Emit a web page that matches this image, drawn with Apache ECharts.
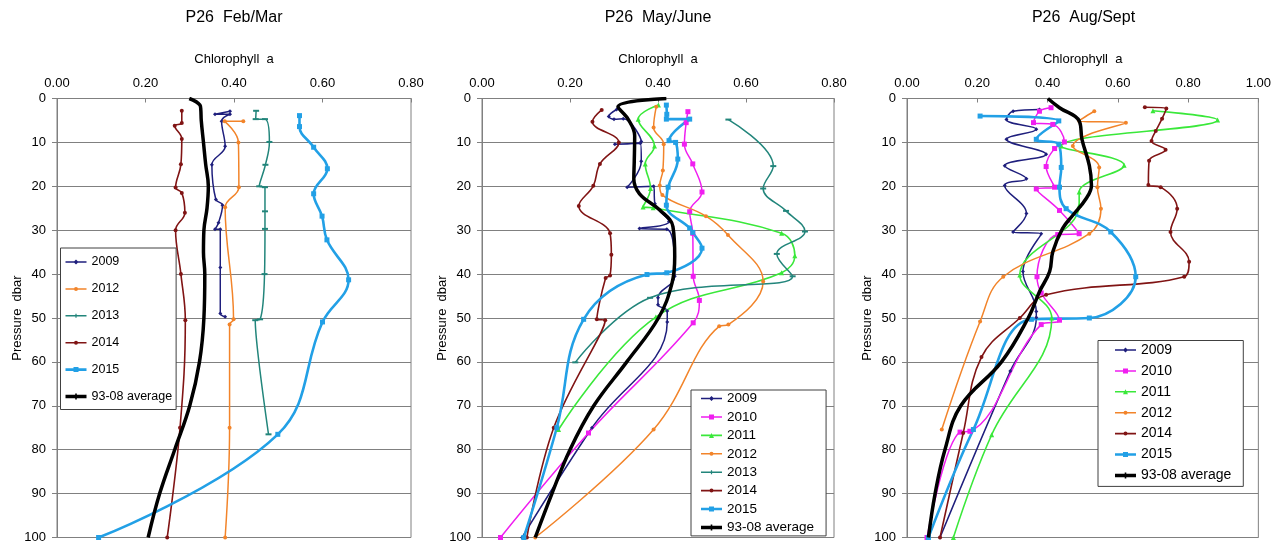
<!DOCTYPE html>
<html><head><meta charset="utf-8">
<script src="https://cdn.jsdelivr.net/npm/echarts@6/dist/echarts.min.js"></script>
<style>html,body{margin:0;padding:0;background:#fff}#c{width:1274px;height:544px}</style>
</head><body><div id="c"></div>
<script>
// ---------- labels ----------
const panelTitles = ['P26  Feb/Mar', 'P26  May/June', 'P26  Aug/Sept'];
const xAxisName = 'Chlorophyll  a';
const yAxisName = 'Pressure  dbar';
const xMaxes = [0.8, 0.8, 1.0];
const yMin = 0, yMax = 100, yStep = 10, xStep = 0.2;

// ---------- data: [chlorophyll a, pressure dbar] ----------
// Feb/Mar
const feb2009 = [[0.391,2.9],[0.357,3.6],[0.391,3.6],[0.372,5.2],[0.380,10.9],[0.350,15.1],[0.359,23.0],[0.374,24.3],[0.365,28.3],[0.357,29.8],[0.369,29.8],[0.369,38.5],[0.369,49.0],[0.380,49.7]];
const feb2012 = [[0.421,5.2],[0.379,5.2],[0.410,10.0],[0.411,20.2],[0.380,24.8],[0.399,50.3],[0.390,51.5],[0.390,75.0],[0.380,100]];
const feb2013 = [[0.450,2.8],[0.449,4.7],[0.470,4.7],[0.480,9.9],[0.471,15.1],[0.457,20.0],[0.470,20.2],[0.470,25.7],[0.470,29.7],[0.469,40.0],[0.459,50.3],[0.448,50.5],[0.478,76.5]];
const feb2014 = [[0.282,2.8],[0.282,5.6],[0.266,6.2],[0.282,9.2],[0.280,15.0],[0.268,20.3],[0.282,21.5],[0.289,26.0],[0.268,30.0],[0.280,40.0],[0.290,50.5],[0.278,75.0],[0.249,100]];
const feb2015 = [[0.548,3.9],[0.548,6.4],[0.580,11.1],[0.611,16.0],[0.580,21.7],[0.599,26.8],[0.610,32.2],[0.659,41.3],[0.600,50.9],[0.499,76.5],[0.094,100]];
const febAvg  = [[0.299,0],[0.323,1.5],[0.325,2.6],[0.326,5],[0.331,10],[0.336,15],[0.342,20],[0.339,25],[0.332,30],[0.331,35],[0.334,40],[0.332,50],[0.322,60],[0.300,70],[0.266,80],[0.232,90],[0.206,100]];
// May/June
const may2009 = [[0.306,2.5],[0.288,4.1],[0.300,4.7],[0.321,4.6],[0.362,9.8],[0.302,10.4],[0.360,10.2],[0.362,14.3],[0.330,20.2],[0.390,20.0],[0.393,24.0],[0.425,28.0],[0.358,29.6],[0.420,29.8],[0.438,40.5],[0.400,45.4],[0.400,47.0],[0.421,48.4],[0.421,50.9],[0.250,75.0],[0.091,100]];
const may2010 = [[0.468,3.0],[0.464,5.5],[0.460,10.4],[0.479,14.9],[0.500,21.3],[0.472,25.8],[0.479,30.7],[0.480,40.5],[0.494,46.0],[0.480,51.1],[0.242,76.2],[0.042,100]];
const may2011 = [[0.401,1.5],[0.355,4.7],[0.392,10.8],[0.371,14.9],[0.383,20.5],[0.366,24.7],[0.389,24.9],[0.681,30.7],[0.711,35.8],[0.681,39.7],[0.395,49.8],[0.174,75.4]];
const may2012 = [[0.396,1.9],[0.390,6.6],[0.413,10.4],[0.411,16.4],[0.404,19.8],[0.410,22.0],[0.509,26.8],[0.559,31.1],[0.639,41.7],[0.560,51.5],[0.539,51.9],[0.390,75.4],[0.121,100]];
const may2013 = [[0.560,4.8],[0.662,15.4],[0.639,20.5],[0.691,25.6],[0.734,30.3],[0.670,35.4],[0.706,40.5],[0.382,45.4],[0.212,60.1]];
const may2014 = [[0.272,2.6],[0.251,5.3],[0.311,10.0],[0.268,14.9],[0.253,19.9],[0.220,24.5],[0.291,30.7],[0.294,35.6],[0.291,40.3],[0.281,40.9],[0.261,50.3],[0.280,50.5],[0.163,75.0],[0.102,100]];
const may2015 = [[0.419,1.5],[0.420,3.6],[0.419,4.7],[0.472,4.7],[0.425,9.6],[0.440,10.0],[0.445,13.8],[0.423,20.2],[0.419,24.3],[0.472,29.5],[0.479,30.5],[0.500,34.1],[0.420,39.7],[0.375,40.1],[0.231,50.3],[0.170,75.0],[0.095,100]];
const mayAvg  = [[0.419,0],[0.309,1.9],[0.332,4.7],[0.347,8.5],[0.346,14.5],[0.345,18.3],[0.358,21.7],[0.404,25.4],[0.434,29.2],[0.438,36],[0.432,42],[0.401,50],[0.329,60],[0.254,70],[0.200,80],[0.159,90],[0.121,100]];
// Aug/Sept
const aug2009 = [[0.377,2.5],[0.302,2.9],[0.283,4.8],[0.368,7.0],[0.283,9.3],[0.396,12.7],[0.278,15.3],[0.340,18.3],[0.278,19.8],[0.340,26.2],[0.302,30.4],[0.382,30.8],[0.330,39.4],[0.368,48.5],[0.368,49.9],[0.294,62.1],[0.094,100]];
const aug2010 = [[0.410,2.1],[0.377,2.9],[0.360,5.5],[0.415,5.9],[0.448,9.9],[0.420,11.4],[0.396,15.5],[0.420,20.2],[0.368,20.6],[0.434,25.5],[0.490,30.8],[0.429,31.0],[0.370,40.6],[0.382,44.3],[0.434,50.5],[0.382,51.5],[0.179,75.8],[0.151,76.0],[0.057,100]];
const aug2011 = [[0.700,2.8],[0.884,4.9],[0.439,10.8],[0.618,15.2],[0.490,21.3],[0.490,24.4],[0.321,40.2],[0.412,50.0],[0.241,76.6],[0.132,100]];
const aug2012 = [[0.533,2.9],[0.490,5.1],[0.623,5.5],[0.472,10.8],[0.547,15.7],[0.542,20.2],[0.552,25.1],[0.519,30.8],[0.274,40.6],[0.208,50.8],[0.099,75.4]];
const aug2014 = [[0.677,2.0],[0.738,2.3],[0.726,4.6],[0.708,7.4],[0.696,9.7],[0.736,11.7],[0.689,14.2],[0.687,19.7],[0.722,20.2],[0.769,25.1],[0.750,30.4],[0.803,37.2],[0.789,40.6],[0.396,44.7],[0.321,50.0],[0.212,58.9],[0.160,76.2],[0.094,100]];
const aug2015 = [[0.208,4.0],[0.432,5.1],[0.368,9.3],[0.432,10.4],[0.439,15.7],[0.434,20.2],[0.453,25.1],[0.580,30.4],[0.651,40.6],[0.519,50.0],[0.354,50.3],[0.189,75.4],[0.061,100]];
const augAvg  = [[0.401,0],[0.434,2.1],[0.490,5.1],[0.498,9.3],[0.519,15.3],[0.525,19.8],[0.509,22.9],[0.472,26.6],[0.443,29.6],[0.415,34.9],[0.406,39.4],[0.377,44],[0.345,50],[0.269,60],[0.153,70],[0.108,80],[0.080,90],[0.061,100]];

const panelSeries = [
  [['2009',feb2009],['2012',feb2012],['2013',feb2013],['2014',feb2014],['2015',feb2015],['93-08 average',febAvg]],
  [['2009',may2009],['2010',may2010],['2011',may2011],['2012',may2012],['2013',may2013],['2014',may2014],['2015',may2015],['93-08 average',mayAvg]],
  [['2009',aug2009],['2010',aug2010],['2011',aug2011],['2012',aug2012],['2014',aug2014],['2015',aug2015],['93-08 average',augAvg]]
];

// ---------- styles ----------
const FONT = '"Liberation Sans", Arial, sans-serif';
const styles = {
  '2009': {color:'#1f1f7d', width:1.5, symbol:'diamond', size:4, mark:'diamond'},
  '2010': {color:'#f01ef0', width:1.5, symbol:'rect', size:5, mark:'rect'},
  '2011': {color:'#3ae83a', width:1.6, symbol:'triangle', size:5, mark:'triangle'},
  '2012': {color:'#f2842a', width:1.5, symbol:'circle', size:4, mark:'circle'},
  '2013': {color:'#22857b', width:1.5, symbol:'rect', size:[6,2], mark:'dash'},
  '2014': {color:'#801414', width:1.6, symbol:'circle', size:4, mark:'circle'},
  '2015': {color:'#22a0e6', width:2.6, symbol:'rect', size:5, mark:'rect'},
  '93-08 average': {color:'#000000', width:3.5, symbol:'none', size:0, mark:'plus'}
};

// legend icon: a short line with a small marker, drawn as a filled path (H = icon height)
const ICON_H = 6;
function legendIcon(st, w) {
  const c = w / 2, m = ICON_H / 2, t = st.width;
  let p = 'path://M0,' + (m - t/2) + 'H' + w + 'V' + (m + t/2) + 'H0Z';
  const r = 2.5;
  if (st.mark === 'rect') p += ' M' + (c-r) + ',' + (m-r) + 'H' + (c+r) + 'V' + (m+r) + 'H' + (c-r) + 'Z';
  else if (st.mark === 'diamond') p += ' M' + c + ',' + (m-r) + 'L' + (c+r) + ',' + m + 'L' + c + ',' + (m+r) + 'L' + (c-r) + ',' + m + 'Z';
  else if (st.mark === 'triangle') p += ' M' + c + ',' + (m-r) + 'L' + (c+r) + ',' + (m+r) + 'L' + (c-r) + ',' + (m+r) + 'Z';
  else if (st.mark === 'circle') p += ' M' + (c-2) + ',' + m + 'A2,2,0,1,1,' + (c+2) + ',' + m + 'A2,2,0,1,1,' + (c-2) + ',' + m + 'Z';
  else if (st.mark === 'dash') p += ' M' + (c-0.6) + ',' + (m-2) + 'H' + (c+0.6) + 'V' + (m+2) + 'H' + (c-0.6) + 'Z';
  else if (st.mark === 'plus') p += ' M' + (c-0.8) + ',0H' + (c+0.8) + 'V' + ICON_H + 'H' + (c-0.8) + 'Z';
  // keep the icon's bounding box exactly w x ICON_H
  p += ' M0,0H0.01V0.01H0Z M' + (w-0.01) + ',' + (ICON_H-0.01) + 'H' + w + 'V' + ICON_H + 'H' + (w-0.01) + 'Z';
  return p;
}

const grids = [
  {left:57, width:354, top:98.5, height:441.5},
  {left:482, width:352, top:98.5, height:441.5},
  {left:907, width:353, top:98.5, height:441.5}
];
const legendLayouts = [
  {left:60.5, top:248, padding:[7.5,4,6.5,5], itemWidth:21, itemGap:13.9, fontSize:12.5},
  {left:691, top:390, padding:[1.6,12,1.5,10], itemWidth:21, itemGap:4.4, fontSize:13.5},
  {left:1098, top:340.5, padding:[2.5,12,4,17], itemWidth:21, itemGap:6.9, fontSize:14}
];

const option = {
  animation: false,
  backgroundColor: '#fff',
  textStyle: {fontFamily: FONT, color:'#000'},
  grid: grids.map(g => Object.assign({show:true, borderColor:'#808080', borderWidth:1, backgroundColor:'transparent'}, g)),
  xAxis: xMaxes.map((mx, i) => ({
    type:'value', gridIndex:i, position:'top', min:0, max:mx, interval:xStep,
    name:xAxisName, nameLocation:'middle', nameGap:33, nameMoveOverlap:false,
    nameTextStyle:{fontFamily:FONT, fontSize:13, color:'#000'},
    axisLine:{show:true, lineStyle:{color:'#808080', width:1}},
    axisTick:{show:true, inside:true, length:4, lineStyle:{color:'#808080'}},
    axisLabel:{margin:9, fontFamily:FONT, fontSize:13, color:'#000', formatter: v => v.toFixed(2)},
    splitLine:{show:false}
  })),
  yAxis: grids.map((g, i) => ({
    type:'value', gridIndex:i, inverse:true, min:yMin, max:yMax, interval:yStep,
    name:yAxisName, nameLocation:'middle', nameGap:33, nameMoveOverlap:false,
    nameTextStyle:{fontFamily:FONT, fontSize:13, color:'#000'},
    axisLine:{show:true, lineStyle:{color:'#808080', width:1}},
    axisTick:{show:true, inside:false, length:5, lineStyle:{color:'#808080'}},
    axisLabel:{margin:11, fontFamily:FONT, fontSize:13, color:'#000'},
    splitLine:{show:true, lineStyle:{color:'#808080', width:1}}
  })),
  legend: legendLayouts.map((L, i) => ({
    orient:'vertical', left:L.left, top:L.top, padding:L.padding,
    itemWidth:L.itemWidth, itemHeight:ICON_H, itemGap:L.itemGap,
    backgroundColor:'#fff', borderColor:'#404040', borderWidth:1, borderRadius:0,
    textStyle:{fontFamily:FONT, fontSize:L.fontSize, color:'#000'},
    itemStyle:{borderWidth:0},
    selectedMode:false,
    data: panelSeries[i].map(([name]) => ({name, icon: legendIcon(styles[name], L.itemWidth)}))
  })),
  graphic: panelTitles.map((t, i) => ({
    type:'text', x: grids[i].left + grids[i].width/2, y:18,
    style:{text:t, align:'center', verticalAlign:'middle', font:'16px ' + FONT, fill:'#000'}
  })),
  series: []
};

panelSeries.forEach((list, i) => {
  list.forEach(([name, data]) => {
    const s = styles[name];
    const isAvg = name === '93-08 average';
    option.series.push({
      type:'line', name, xAxisIndex:i, yAxisIndex:i, data,
      smooth:0.4, color:s.color,
      symbol:s.symbol, symbolSize:s.size, showSymbol:!isAvg,
      lineStyle:{width:s.width, color:s.color},
      itemStyle:{color:s.color},
      z: isAvg ? 5 : 3, clip:true
    });
  });
});

const chart = echarts.init(document.getElementById('c'), null, {renderer:'canvas'});
chart.setOption(option);
</script>
</body></html>
